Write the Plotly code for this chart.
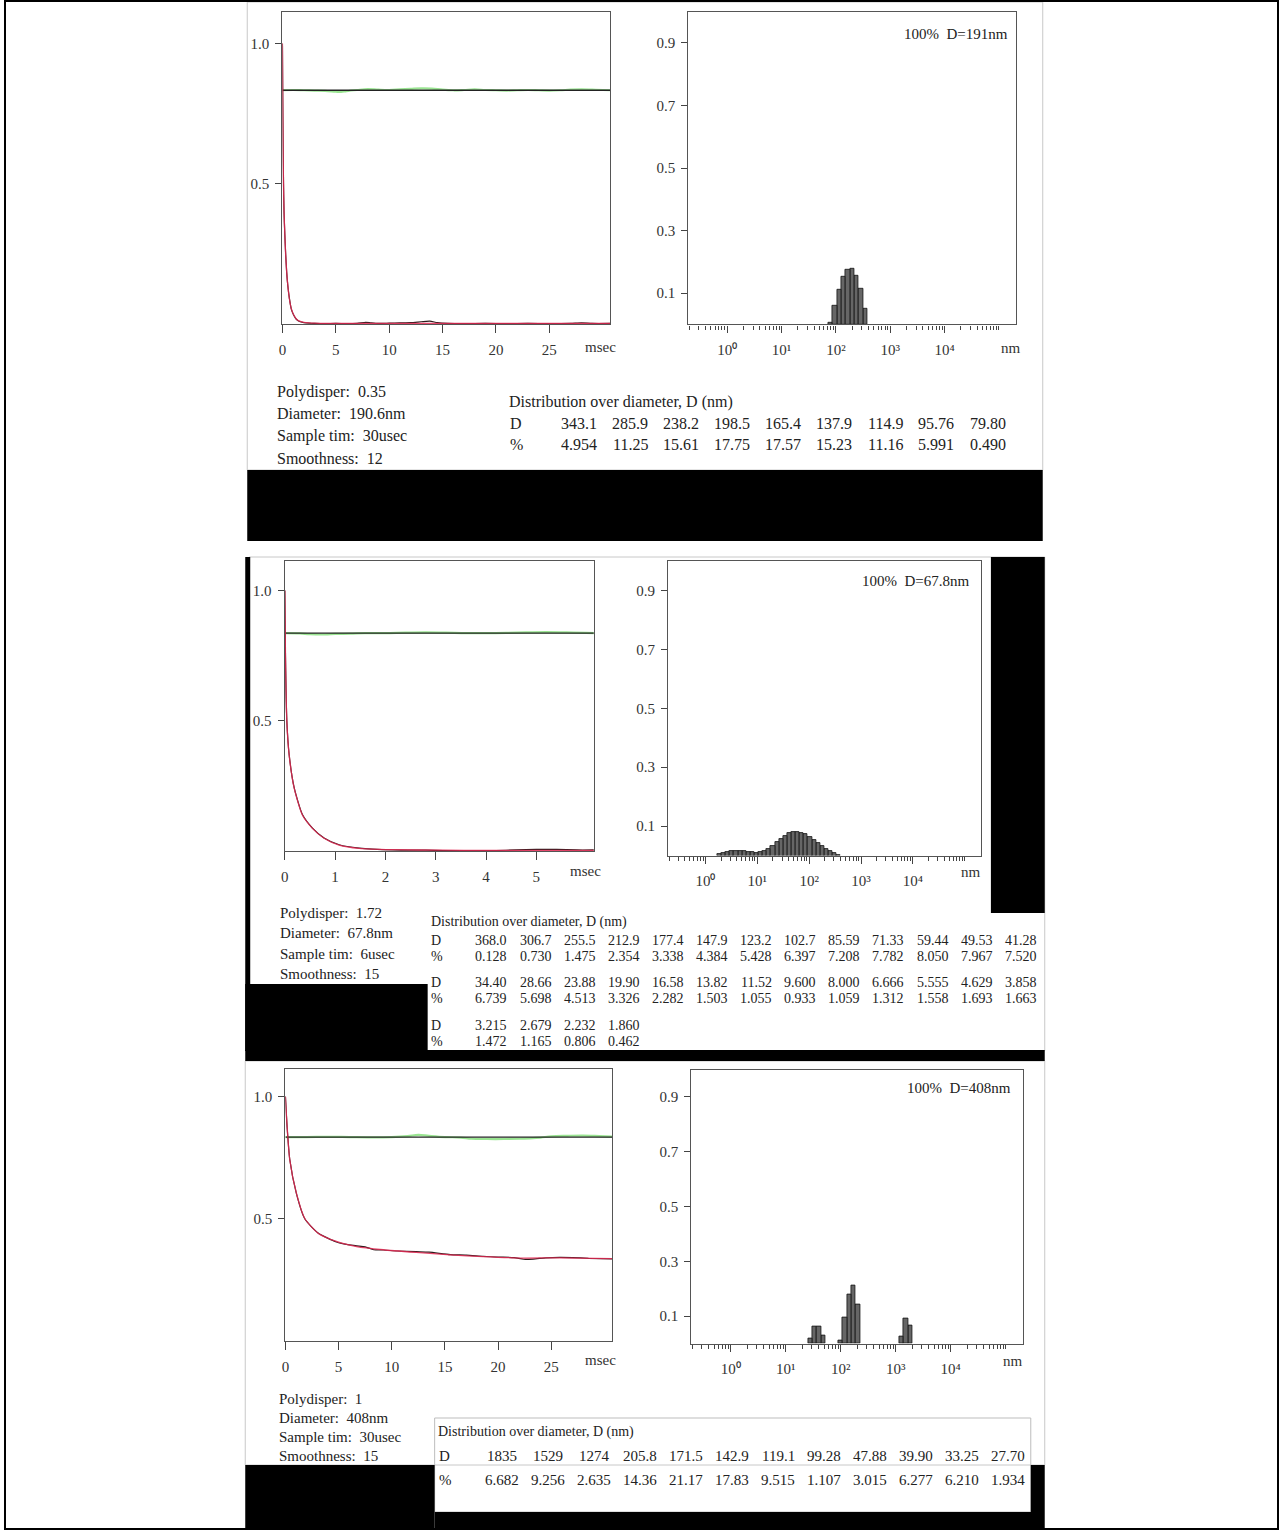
import numpy as np
import plotly.graph_objects as go

W, H = 1279, 1530
FONT = "Liberation Serif, Times New Roman, serif"


def px(x):
    return x / W


def py(y):
    return 1 - y / H


# ---------------- correlation functions (three measurements) ----------------
T1, T2, T3 = 30.72, 6.144, 30.72
base1, base2, base3 = 0.833, 0.836, 0.834

fit1_t = [0, 0.03, 0.06, 0.1, 0.15, 0.22, 0.3, 0.4, 0.5, 0.65, 0.84, 1.05, 1.3, 1.6, 2.0, 2.5, 3.0, 4, 6, 10, 15, 20, 25, 30.72]
fit1_g = [1.0, 0.80, 0.64, 0.50, 0.40, 0.325, 0.25, 0.185, 0.14, 0.09, 0.053, 0.033, 0.018, 0.010, 0.006, 0.004, 0.003, 0.002, 0.002, 0.002, 0.002, 0.002, 0.002, 0.002]
meas1_t = [0, 0.03, 0.06, 0.1, 0.15, 0.22, 0.3, 0.4, 0.5, 0.65, 0.84, 1.05, 1.3, 1.6, 2.0, 2.5, 3, 4, 5, 6, 7, 7.8, 8.3, 9, 10, 11, 12, 13, 13.8, 14.5, 15.5, 17, 19, 21, 23, 25, 27, 28, 29, 30.72]
meas1_g = [1.0, 0.80, 0.645, 0.505, 0.40, 0.322, 0.252, 0.183, 0.138, 0.092, 0.052, 0.032, 0.017, 0.009, 0.005, 0.003, 0.002, 0.001, 0.002, 0.001, 0.002, 0.006, 0.004, 0.002, 0.003, 0.004, 0.005, 0.008, 0.010, 0.005, 0.002, 0.001, 0.002, 0.001, 0.002, 0.001, 0.002, 0.004, 0.002, 0.002]
noise1_t = [0, 1, 2, 3, 4, 5, 5.5, 6, 7, 8, 9, 10, 11, 12, 13, 14, 15, 16, 17, 18, 19, 20, 21, 22, 23, 24, 25, 26, 27, 28, 29, 30, 30.72]
noise1_g = [0.833, 0.834, 0.833, 0.832, 0.831, 0.828, 0.827, 0.830, 0.834, 0.837, 0.835, 0.834, 0.836, 0.838, 0.840, 0.839, 0.835, 0.833, 0.834, 0.836, 0.834, 0.833, 0.832, 0.833, 0.834, 0.833, 0.832, 0.833, 0.835, 0.836, 0.835, 0.834, 0.833]

fit2_t = [0, 0.013, 0.04, 0.086, 0.186, 0.35, 0.55, 0.78, 1.08, 1.48, 2.14, 3.14, 4.0, 5.0, 6.144]
fit2_g = [1.0, 0.754, 0.497, 0.369, 0.241, 0.138, 0.087, 0.049, 0.023, 0.010, 0.005, 0.003, 0.002, 0.002, 0.002]
meas2_t = [0, 0.013, 0.04, 0.086, 0.186, 0.35, 0.55, 0.78, 1.08, 1.48, 2.14, 2.8, 3.14, 3.6, 4.2, 4.6, 5.0, 5.4, 5.8, 6.144]
meas2_g = [1.0, 0.75, 0.50, 0.37, 0.243, 0.140, 0.088, 0.050, 0.024, 0.011, 0.004, 0.003, 0.002, 0.002, 0.002, 0.004, 0.006, 0.006, 0.004, 0.004]
noise2_t = [0, 0.3, 0.5, 0.8, 1.0, 1.3, 1.6, 2.0, 2.4, 2.8, 3.2, 3.6, 4.0, 4.4, 4.8, 5.2, 5.6, 6.0, 6.144]
noise2_g = [0.836, 0.835, 0.832, 0.831, 0.833, 0.834, 0.836, 0.836, 0.838, 0.839, 0.838, 0.836, 0.836, 0.837, 0.839, 0.840, 0.839, 0.837, 0.836]

fit3_t = [0, 0.16, 0.41, 1.03, 1.82, 3.07, 4.8, 6.7, 9.2, 12.3, 15.5, 18.6, 22.4, 25.8, 30.72]
fit3_g = [1.0, 0.877, 0.741, 0.604, 0.500, 0.440, 0.406, 0.385, 0.372, 0.361, 0.351, 0.344, 0.338, 0.339, 0.336]
meas3_t = [0, 0.16, 0.41, 1.03, 1.82, 3.07, 4.8, 6.0, 6.7, 7.5, 8.3, 9.2, 10.5, 12.3, 13.5, 15.5, 17, 18.6, 20, 21.5, 22.4, 23.3, 24.5, 25.8, 27, 28.5, 30.72]
meas3_g = [1.0, 0.875, 0.742, 0.603, 0.499, 0.441, 0.404, 0.392, 0.388, 0.384, 0.372, 0.371, 0.367, 0.364, 0.362, 0.352, 0.350, 0.345, 0.342, 0.340, 0.333, 0.334, 0.339, 0.341, 0.340, 0.337, 0.335]
noise3_t = [0, 2, 4, 6, 8, 10, 11.5, 12.5, 13.5, 15, 16.5, 17.5, 19, 20.5, 22, 23, 24, 25, 26.5, 28, 29.5, 30.72]
noise3_g = [0.834, 0.834, 0.835, 0.834, 0.833, 0.834, 0.838, 0.843, 0.839, 0.834, 0.832, 0.827, 0.826, 0.826, 0.827, 0.829, 0.832, 0.837, 0.839, 0.840, 0.838, 0.836]

# ---------------- size distributions (diameter nm, percent) ----------------
d1_txt = ["343.1", "285.9", "238.2", "198.5", "165.4", "137.9", "114.9", "95.76", "79.80"]
p1_txt = ["4.954", "11.25", "15.61", "17.75", "17.57", "15.23", "11.16", "5.991", "0.490"]

d2_rows = [
    ["368.0", "306.7", "255.5", "212.9", "177.4", "147.9", "123.2", "102.7", "85.59", "71.33", "59.44", "49.53", "41.28"],
    ["34.40", "28.66", "23.88", "19.90", "16.58", "13.82", "11.52", "9.600", "8.000", "6.666", "5.555", "4.629", "3.858"],
    ["3.215", "2.679", "2.232", "1.860"],
]
p2_rows = [
    ["0.128", "0.730", "1.475", "2.354", "3.338", "4.384", "5.428", "6.397", "7.208", "7.782", "8.050", "7.967", "7.520"],
    ["6.739", "5.698", "4.513", "3.326", "2.282", "1.503", "1.055", "0.933", "1.059", "1.312", "1.558", "1.693", "1.663"],
    ["1.472", "1.165", "0.806", "0.462"],
]

d3_txt = ["1835", "1529", "1274", "205.8", "171.5", "142.9", "119.1", "99.28", "47.88", "39.90", "33.25", "27.70"]
p3_txt = ["6.682", "9.256", "2.635", "14.36", "21.17", "17.83", "9.515", "1.107", "3.015", "6.277", "6.210", "1.934"]

info1 = ["Polydisper:  0.35", "Diameter:  190.6nm", "Sample tim:  30usec", "Smoothness:  12"]
info2 = ["Polydisper:  1.72", "Diameter:  67.8nm", "Sample tim:  6usec", "Smoothness:  15"]
info3 = ["Polydisper:  1", "Diameter:  408nm", "Sample tim:  30usec", "Smoothness:  15"]
peak_labels = ["100%  D=191nm", "100%  D=67.8nm", "100%  D=408nm"]
table_title = "Distribution over diameter, D (nm)"

corr_ticks = [[0, 5, 10, 15, 20, 25], [0, 1, 2, 3, 4, 5], [0, 5, 10, 15, 20, 25]]
dist_major = [0, 1, 2, 3, 4]
dist_major_txt = ["10\u2070", "10\u00b9", "10\u00b2", "10\u00b3", "10\u2074"]
dist_minor = [np.log10(m * 10.0 ** k) for k in range(-1, 5) for m in range(2, 10)] + [5.0]

# ---------------- panel geometry (pixels) ----------------
corr_boxes = [(279.3, 608.3, 11.7, 324), (281.7, 591.7, 561, 851), (282.3, 610, 1069, 1340.5)]
dist_boxes = [(686.5, 1015, 11.7, 324.3), (666.4, 980, 561, 855.5), (689.5, 1022, 1069.5, 1343.5)]

fig = go.Figure()
layout = dict(
    width=W, height=H, margin=dict(l=0, r=0, t=0, b=0),
    paper_bgcolor="white", plot_bgcolor="white", showlegend=False,
    font=dict(family=FONT, size=15, color="#333"),
)

axis_common = dict(
    showgrid=False, zeroline=False, showline=True, mirror=True,
    linecolor="#555", linewidth=1.4, ticks="outside", tickcolor="#444",
    tickfont=dict(family=FONT, size=15, color="#333"),
)

corr_sets = [
    (T1, base1, fit1_t, fit1_g, meas1_t, meas1_g, noise1_t, noise1_g),
    (T2, base2, fit2_t, fit2_g, meas2_t, meas2_g, noise2_t, noise2_g),
    (T3, base3, fit3_t, fit3_g, meas3_t, meas3_g, noise3_t, noise3_g),
]

dist_sets = [
    ([float(v) for v in d1_txt], [float(v) for v in p1_txt]),
    ([float(v) for r in d2_rows for v in r], [float(v) for r in p2_rows for v in r]),
    ([float(v) for v in d3_txt], [float(v) for v in p3_txt]),
]

for i in range(3):
    ax_c = 2 * i + 1
    ax_d = 2 * i + 2
    xa_c, ya_c = f"x{ax_c}", f"y{ax_c}"
    xa_d, ya_d = f"x{ax_d}", f"y{ax_d}"
    T, base, ft, fg, mt, mg, nt, ng = corr_sets[i]

    # correlation panel: residual noise, baseline, measured and fitted curves
    fig.add_trace(go.Scatter(x=nt, y=ng, mode="lines", line=dict(color="rgba(120,220,110,0.75)", width=2.2, shape="spline"),
                             xaxis=xa_c, yaxis=ya_c, hoverinfo="skip"))
    fig.add_trace(go.Scatter(x=[0, T], y=[base, base], mode="lines", line=dict(color="#222", width=1.3),
                             xaxis=xa_c, yaxis=ya_c))
    fig.add_trace(go.Scatter(x=mt, y=mg, mode="lines", line=dict(color="#2a1a1a", width=1.2, shape="spline", smoothing=0.6),
                             xaxis=xa_c, yaxis=ya_c))
    fig.add_trace(go.Scatter(x=ft, y=fg, mode="lines", line=dict(color="rgba(226,40,82,0.85)", width=1.3, shape="spline", smoothing=0.6),
                             xaxis=xa_c, yaxis=ya_c))

    x0, x1, y0, y1 = corr_boxes[i]
    layout["xaxis" + ("" if ax_c == 1 else str(ax_c))] = dict(
        axis_common, domain=[px(x0), px(x1)], anchor=ya_c, range=[0, T],
        tickvals=corr_ticks[i], ticklen=8, ticklabelstandoff=4,
    )
    layout["yaxis" + str(ax_c) if ax_c > 1 else "yaxis"] = dict(
        axis_common, domain=[py(y1), py(y0)], anchor=xa_c, range=[0, 1.113],
        tickvals=[0.5, 1.0], ticktext=["0.5", "1.0"], ticklen=6, ticklabelstandoff=3,
    )

    # size-distribution panel (log10 diameter on the x axis)
    d, p = dist_sets[i]
    logd = np.log10(d)
    bw = np.log10(d[0] / d[1])
    fig.add_trace(go.Bar(x=logd, y=np.array(p) / 100.0, width=bw,
                         marker=dict(color="#666", line=dict(color="#111", width=0.8)),
                         xaxis=xa_d, yaxis=ya_d))
    x0, x1, y0, y1 = dist_boxes[i]
    layout["xaxis" + str(ax_d)] = dict(
        axis_common, domain=[px(x0), px(x1)], anchor=ya_d, range=[-0.715, 5.31],
        tickvals=dist_major, ticktext=dist_major_txt, ticklen=7, ticklabelstandoff=4,
        minor=dict(tickmode="array", tickvals=dist_minor, ticks="outside", ticklen=4, tickcolor="#444"),
    )
    layout["yaxis" + str(ax_d)] = dict(
        axis_common, domain=[py(y1), py(y0)], anchor=xa_d, range=[0, 1.0],
        tickvals=[0.1, 0.3, 0.5, 0.7, 0.9], ticktext=["0.1", "0.3", "0.5", "0.7", "0.9"],
        ticklen=6, ticklabelstandoff=3,
    )

fig.update_layout(**layout)
fig.update_layout(bargap=0)

# ---------------- page decorations: sheet frames and black bands ----------------
shapes = []


def rect(x0, y0, x1, y1, fill=None, line=None, lw=1):
    return dict(type="rect", xref="paper", yref="paper", x0=px(x0), x1=px(x1), y0=py(y1), y1=py(y0),
                fillcolor=fill if fill else "rgba(0,0,0,0)",
                line=dict(color=line if line else "rgba(0,0,0,0)", width=lw if line else 0),
                layer="above")


shapes.append(rect(244, 2, 1042, 470, line="#c8c8c8"))
shapes.append(rect(246, 557, 1044, 1051, line="#c8c8c8"))
shapes.append(rect(242, 1061, 1044, 1465, line="#c8c8c8"))
shapes.append(rect(432, 1418, 1030, 1512, line="#bdbdbd"))
shapes.append(rect(244, 470, 1042, 541, fill="black"))
shapes.append(rect(242, 557, 247, 1051, fill="black"))
shapes.append(rect(242, 984, 425, 1051, fill="black"))
shapes.append(rect(990, 557, 1044, 913, fill="black"))
shapes.append(rect(242, 1050, 1044, 1061, fill="black"))
shapes.append(rect(242, 1465, 432, 1529, fill="black"))
shapes.append(rect(432, 1512, 1044, 1529, fill="black"))
shapes.append(rect(1030, 1465, 1044, 1512, fill="black"))
shapes.append(rect(1, 1, 1278, 1529, line="black", lw=2))

# ---------------- text ----------------
ann = []


def txt(x, y, s, size=16, anchor="left", color="#222"):
    ann.append(dict(x=px(x), y=py(y), xref="paper", yref="paper", text=s, showarrow=False,
                    xanchor=anchor, yanchor="middle", font=dict(family=FONT, size=size, color=color)))


txt(598, 347, "msec", 15, "center", "#333")
txt(583, 871, "msec", 15, "center", "#333")
txt(598, 1360, "msec", 15, "center", "#333")
txt(1010, 348, "nm", 15, "center", "#333")
txt(970, 872, "nm", 15, "center", "#333")
txt(1012, 1361, "nm", 15, "center", "#333")
txt(1009, 34, peak_labels[0], 15, "right")
txt(971, 581, peak_labels[1], 15, "right")
txt(1012, 1088, peak_labels[2], 15, "right")

for k, s in enumerate(info1):
    txt(272, 392 + 22 * k, s, 16)
for k, s in enumerate(info2):
    txt(275, 913 + 20.3 * k, s, 15)
for k, s in enumerate(info3):
    txt(274, 1399 + 19 * k, s, 15)

# distribution table, sheet 1
txt(505, 402, table_title, 16)
txt(506, 423, "D", 16)
txt(506, 444, "%", 16)
for j, (dv, pv) in enumerate(zip(d1_txt, p1_txt)):
    txt(577 + 51.2 * j, 423, dv, 16, "center")
    txt(577 + 51.2 * j, 444, pv, 16, "center")

# distribution table, sheet 2
txt(426, 922, table_title, 14)
row_y = [(940, 956), (982, 998), (1025, 1041)]
for r, (drow, prow) in enumerate(zip(d2_rows, p2_rows)):
    yd, yp = row_y[r]
    txt(426, yd, "D", 14)
    txt(426, yp, "%", 14)
    for j, (dv, pv) in enumerate(zip(drow, prow)):
        txt(489 + 44.25 * j, yd, dv, 14, "center")
        txt(489 + 44.25 * j, yp, pv, 14, "center")

# distribution table, sheet 3
txt(433, 1432, table_title, 14)
txt(434, 1456, "D", 15)
txt(434, 1480, "%", 15)
for j, (dv, pv) in enumerate(zip(d3_txt, p3_txt)):
    txt(500 + 46.1 * j, 1456, dv, 15, "center")
    txt(500 + 46.1 * j, 1480, pv, 15, "center")

fig.update_layout(shapes=shapes, annotations=ann)
fig.write_html("out.html")
